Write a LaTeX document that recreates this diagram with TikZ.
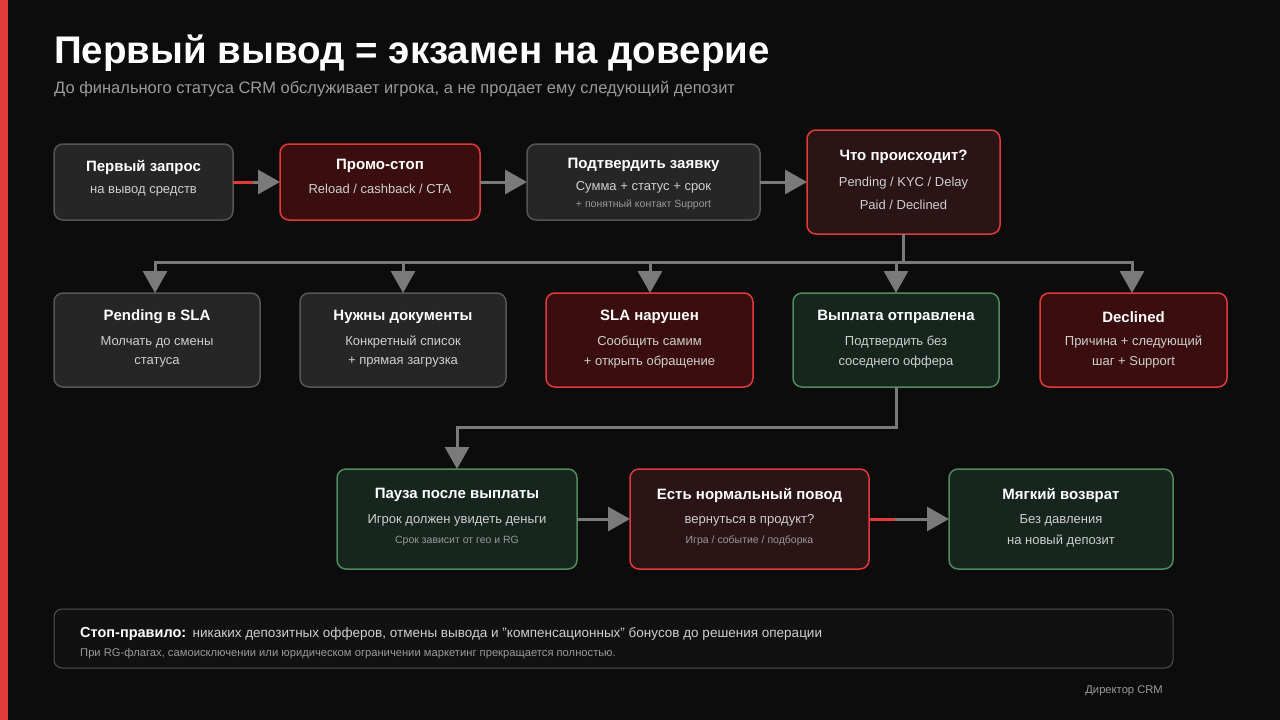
\documentclass[tikz,border=0pt]{standalone}
\usepackage{fontspec}
\setmainfont{Liberation Sans}
\usetikzlibrary{arrows.meta}
\definecolor{bg}{HTML}{0C0C0C}
\definecolor{gfill}{HTML}{262626}
\definecolor{gline}{HTML}{555555}
\definecolor{rfill}{HTML}{3A0E0F}
\definecolor{rfill2}{HTML}{2A1416}
\definecolor{rline}{HTML}{E03A3A}
\definecolor{nfill}{HTML}{16251E}
\definecolor{nline}{HTML}{4F8A5E}
\definecolor{arr}{HTML}{7A7A7A}
\definecolor{sub}{HTML}{CFCFCF}
\definecolor{small}{HTML}{9A9A9A}
\begin{document}
\begin{tikzpicture}[x=1pt,y=-1pt,
 box/.style={rounded corners=9pt,line width=1.5pt},
 gbox/.style={box,fill=gfill,draw=gline},
 rbox/.style={box,fill=rfill,draw=rline},
 r2box/.style={box,fill=rfill2,draw=rline},
 nbox/.style={box,fill=nfill,draw=nline},
 ttl/.style={text=white,font=\fontsize{15}{18}\selectfont\bfseries},
 st/.style={text=sub,font=\fontsize{13}{16}\selectfont},
 sm/.style={text=small,font=\fontsize{10.5}{12}\selectfont},
 ar/.style={draw=arr,line width=3pt,-{Triangle[length=22pt,width=24pt]}},
 ln/.style={draw=arr,line width=3pt}]
\fill[bg] (0,0) rectangle (1280,720);
\useasboundingbox (0,0) rectangle (1280,720);
\fill[rline] (0,0) rectangle (8,720);
\node[anchor=base west,inner sep=0pt,text=white,font=\fontsize{38.5}{44}\selectfont\bfseries] (title) at (54,63) {Первый вывод = экзамен на доверие};
\node[anchor=base west,inner sep=0pt,text=small,font=\fontsize{16.5}{19}\selectfont] (subtitle) at (54,93) {До финального статуса CRM обслуживает игрока, а не продает ему следующий депозит};
% row 1
\draw[gbox] (54,144) rectangle (233,220);
\node (A) at (143.5,182) {};
\node[ttl] (At) at (143.5,167) {Первый запрос};
\node[st] (As) at (143.5,191) {на вывод средств};
\draw[rbox] (280,144) rectangle (480,220);
\node (B) at (380,182) {};
\node[ttl] (Bt) at (380,166) {Промо-стоп};
\node[st] (Bs) at (380,189) {Reload / cashback / CTA};
\draw[gbox] (527,144) rectangle (760,220);
\node (C) at (643.5,182) {};
\node[ttl] (Ct) at (643.5,165) {Подтвердить заявку};
\node[st] (Cs) at (643.5,187) {Сумма + статус + срок};
\node[sm] (Cm) at (643.5,205) {+ понятный контакт Support};
\draw[r2box] (807,130) rectangle (1000,234);
\node (D) at (903.5,182) {};
\node[ttl] (Dt) at (903.5,157) {Что происходит?};
\node[st] (Ds1) at (903.5,183) {Pending / KYC / Delay};
\node[st] (Ds2) at (903.5,205) {Paid / Declined};
\coordinate (a1) at (233,182); \coordinate (b0) at (280,182);
\coordinate (b1) at (480,182); \coordinate (c0) at (527,182);
\coordinate (c1) at (760,182); \coordinate (d0) at (807,182);
\draw[draw=rline,line width=3pt] (a1) -- ++(25,0);
\draw[ar] (a1) ++(20,0) -- (b0);
\draw[ar] (b1) -- (c0);
\draw[ar] (c1) -- (d0);
% row 2
\foreach \n/\x/\w/\s/\t/\u/\v in {E/54/206/gbox/Pending в SLA/Молчать до смены/статуса,
 F/300/206/gbox/Нужны документы/Конкретный список/+ прямая загрузка,
 G/546/207/rbox/SLA нарушен/Сообщить самим/+ открыть обращение,
 H/793/206/nbox/Выплата отправлена/Подтвердить без/соседнего оффера,
 I/1040/187/rbox/Declined/Причина + следующий/шаг + Support}{
 \draw[\s] (\x,293) rectangle ++(\w,94);
 \node (\n) at ({\x+\w/2},340) {};
 \node[ttl] (\n t) at ({\x+\w/2},317) {\t};
 \node[st] (\n s1) at ({\x+\w/2},342) {\u};
 \node[st] (\n s2) at ({\x+\w/2},362) {\v};
}
\coordinate (dB) at (903.5,234);
\coordinate (jn) at (903.5,262);
\draw[ln] (dB) -- (jn);
\draw[ln] (155,262) -- (1132,262);
\foreach \x in {155,403,650,896,1132}{
 \draw[ar] (\x,261) -- (\x,293);
}
% row 3
\draw[nbox] (337,469) rectangle (577,569);
\node (J) at (457,519) {};
\node[ttl] (Jt) at (457,495) {Пауза после выплаты};
\node[st] (Js) at (457,520) {Игрок должен увидеть деньги};
\node[sm] (Jm) at (457,541) {Срок зависит от гео и RG};
\draw[r2box] (630,469) rectangle (869,569);
\node (K) at (749.5,519) {};
\node[ttl] (Kt) at (749.5,495) {Есть нормальный повод};
\node[st] (Ks) at (749.5,520) {вернуться в продукт?};
\node[sm] (Km) at (749.5,541) {Игра / событие / подборка};
\draw[nbox] (949,469) rectangle (1173,569);
\node (L) at (1061,519) {};
\node[ttl] (Lt) at (1061,495) {Мягкий возврат};
\node[st] (Ls1) at (1061,520) {Без давления};
\node[st] (Ls2) at (1061,541) {на новый депозит};
\draw[ln] (896,387) -- (896,427) -- (457,427);
\draw[ar] (457,426) -- (457,469);
\draw[ar] (577,519) -- (630,519);
\draw[draw=rline,line width=3pt] (869,519) -- (900,519);
\draw[ar] (895,519) -- (949,519);
% rule box
\draw[rounded corners=8pt,fill=bg!80!gfill,draw=gfill!80!white,line width=1pt] (54,609) rectangle (1173,668);
\node[anchor=base west,inner sep=0pt,text=white,font=\fontsize{14.5}{16}\selectfont\bfseries] (rt) at (80,637) {Стоп-правило:};
\node[anchor=base west,inner sep=0pt,text=sub,font=\fontsize{13.5}{16}\selectfont] (rs) at ([xshift=6pt]rt.base east) {никаких депозитных офферов, отмены вывода и "компенсационных" бонусов до решения операции};
\node[anchor=base west,inner sep=0pt,sm,font=\fontsize{11.2}{13}\selectfont] (rm) at (80,656) {При RG-флагах, самоисключении или юридическом ограничении маркетинг прекращается полностью.};
\node[anchor=base east,inner sep=0pt,sm,font=\fontsize{11.2}{13}\selectfont] (dir) at (1163,693) {Директор CRM};
\end{tikzpicture}
\end{document}
